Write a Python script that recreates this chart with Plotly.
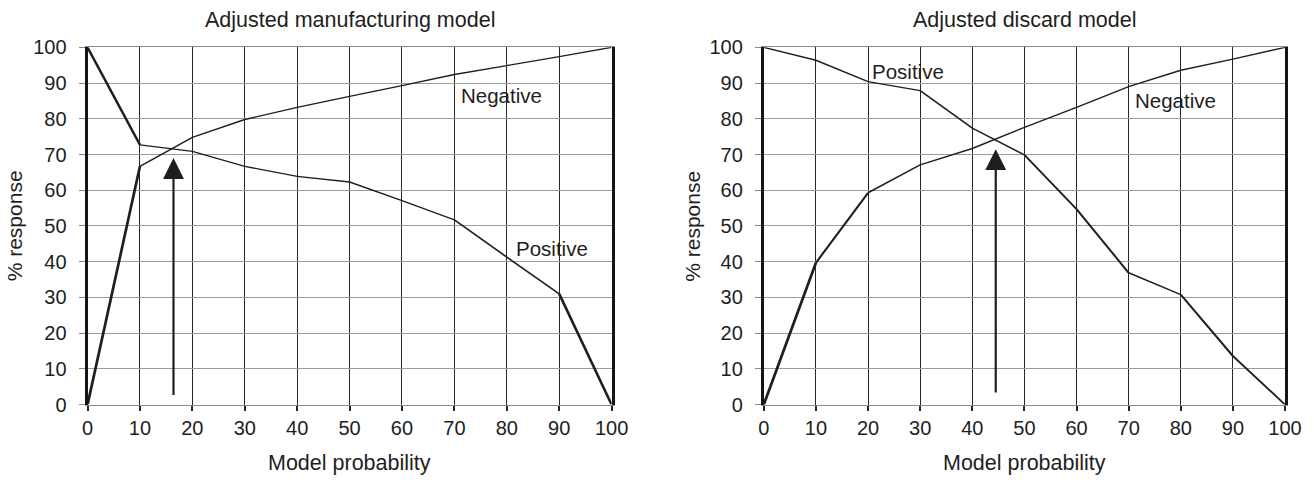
import plotly.graph_objects as go

# ---------------- data ----------------
model_prob = [0, 10, 20, 30, 40, 50, 60, 70, 80, 90, 100]

manuf_positive = [100, 72.7, 70.9, 66.7, 63.9, 62.3, 57.1, 51.7, 41.3, 31.0, 0]
manuf_negative = [0, 66.7, 74.8, 79.8, 83.2, 86.3, 89.3, 92.4, 94.9, 97.4, 100]

discard_positive = [100, 96.4, 90.4, 87.9, 77.4, 69.9, 54.7, 36.9, 30.8, 13.6, 0]
discard_negative = [0, 39.7, 59.3, 67.1, 71.7, 77.6, 83.2, 89.0, 93.6, 96.7, 100]

titles = ["Adjusted manufacturing model", "Adjusted discard model"]
x_title = "Model probability"
y_title = "% response"
tick_vals = list(range(0, 101, 10))

# cut-off arrows (x position, start y, tip y)
arrow_manuf = (16.4, 2.3, 69.0)
arrow_discard = (44.5, 3.0, 71.5)

# line labels: (text, x, y)
labels_manuf = [("Negative", 79, 86.5), ("Positive", 88.6, 43.6)]
labels_discard = [("Positive", 27.6, 93.3), ("Negative", 79.0, 85.2)]

# ---------------- figure ----------------
FONT = "Liberation Sans, Arial, Helvetica, sans-serif"
INK = "#1e1e1e"
W, H = 1314, 485

x_domains = [[83.0 / W, 616.4 / W], [771.3 / W, 1301.8 / W]]
y_domain = [1 - 412.3 / H, 1 - 38.1 / H]

fig = go.Figure()

panels = [
    (manuf_positive, manuf_negative, arrow_manuf, labels_manuf, "x", "y"),
    (discard_positive, discard_negative, arrow_discard, labels_discard, "x2", "y2"),
]

for series_pos, series_neg, arrow, labels, xa, ya in panels:
    for series in (series_pos, series_neg):
        for i in range(len(model_prob) - 1):
            x0, x1 = model_prob[i], model_prob[i + 1]
            y0, y1 = series[i], series[i + 1]
            slope = abs((y1 - y0) / (x1 - x0))
            w = min(max(1.2 + 0.45 * slope, 1.4), 2.7)
            fig.add_trace(go.Scatter(
                x=[x0, x1], y=[y0, y1], mode="lines",
                line=dict(color=INK, width=w),
                xaxis=xa, yaxis=ya, showlegend=False, cliponaxis=False,
                hoverinfo="x+y",
            ))
    ax_x, ay_y, tip_y = arrow
    fig.add_annotation(
        x=ax_x, y=tip_y, ax=ax_x, ay=ay_y, xref=xa, yref=ya,
        axref=xa, ayref=ya, showarrow=True, arrowhead=2, arrowsize=1.9,
        arrowwidth=2.2, arrowcolor=INK, text="",
    )
    for txt, lx, ly in labels:
        fig.add_annotation(
            x=lx, y=ly, xref=xa, yref=ya, text=txt, showarrow=False,
            font=dict(family=FONT, size=20.5, color=INK),
            xanchor="center", yanchor="middle",
        )

axis_common_x = dict(
    range=[0, 100], tickvals=tick_vals, showgrid=True, gridcolor="#262626",
    gridwidth=1.4, zeroline=False, showline=True, linecolor="#8a8a8a",
    linewidth=1.3, mirror=True, ticks="outside", ticklen=5, tickwidth=1.6,
    tickcolor="#262626", ticklabelstandoff=0,
    tickfont=dict(family=FONT, size=20, color=INK), fixedrange=True,
)
axis_common_y = dict(
    range=[0, 100], tickvals=tick_vals, showgrid=True, gridcolor="#9c9c9c",
    gridwidth=1.2, zeroline=False, showline=True, linecolor="#151515",
    linewidth=3, mirror=True, ticks="outside", ticklen=6, tickwidth=1.2,
    tickcolor="#8a8a8a", ticklabelstandoff=8,
    tickfont=dict(family=FONT, size=20, color=INK), fixedrange=True,
)

fig.update_layout(
    width=W, height=H,
    margin=dict(l=0, r=0, t=0, b=0),
    paper_bgcolor="white", plot_bgcolor="white",
    xaxis=dict(domain=x_domains[0], anchor="y", **axis_common_x),
    yaxis=dict(domain=y_domain, anchor="x", **axis_common_y),
    xaxis2=dict(domain=x_domains[1], anchor="y2", **axis_common_x),
    yaxis2=dict(domain=y_domain, anchor="x2", **axis_common_y),
    font=dict(family=FONT, color=INK),
)

# titles and axis titles
for k, dom in enumerate(x_domains):
    cx = (dom[0] + dom[1]) / 2
    fig.add_annotation(x=cx, y=1 - 9 / H, xref="paper", yref="paper",
                       text=titles[k], showarrow=False,
                       font=dict(family=FONT, size=21.5, color=INK),
                       xanchor="center", yanchor="middle")
    fig.add_annotation(x=cx, y=1 - 474 / H, xref="paper", yref="paper",
                       text=x_title, showarrow=False,
                       font=dict(family=FONT, size=21.5, color=INK),
                       xanchor="center", yanchor="middle")
    ytx = [9.5 / W, 699 / W][k]
    fig.add_annotation(x=ytx, y=(y_domain[0] + y_domain[1]) / 2,
                       xref="paper", yref="paper", text=y_title,
                       showarrow=False, textangle=-90,
                       font=dict(family=FONT, size=21, color=INK),
                       xanchor="center", yanchor="middle")

fig.write_html("out.html", config={"displayModeBar": False},
               post_script="document.body.style.margin='0';")
